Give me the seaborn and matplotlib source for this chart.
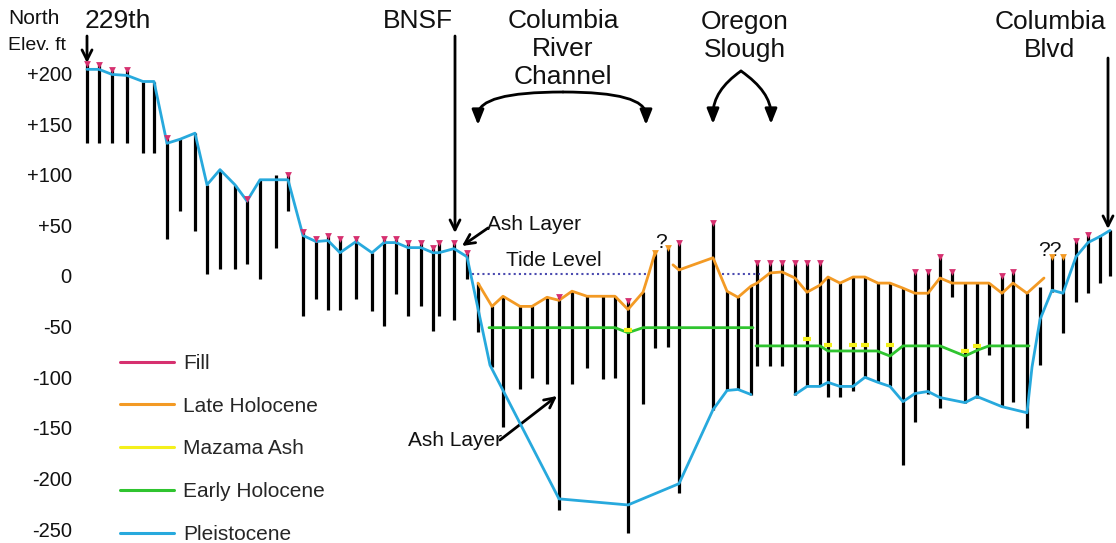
import numpy as np
import pandas as pd
import matplotlib
matplotlib.use("Agg")
import matplotlib.pyplot as plt
from matplotlib.lines import Line2D
from matplotlib.patches import FancyArrowPatch
import seaborn as sns

sns.set_theme(style="white")
plt.rcParams['font.family'] = ['Liberation Sans', 'DejaVu Sans']

W, H = 1116, 543

# boreholes along the section (distance units, north -> south), elevations in ft
bore_x = [87, 99, 112, 127, 143, 154, 167, 180, 195, 207, 220, 235, 247, 260, 276, 288,
          303, 316, 328, 340, 356, 372, 384, 396, 408, 421, 433, 439, 454, 467,
          478, 492, 503, 520, 532, 547, 559, 572, 587, 603, 615, 628, 643, 655, 668, 679,
          713, 727, 738, 751, 757, 770, 782, 795, 807, 820, 828, 840, 853, 865, 878, 890,
          903, 915, 928, 940, 952, 965, 977, 989, 1002, 1013, 1027, 1040, 1052, 1063,
          1076, 1088, 1100, 1110]
bore_top = [209, 208, 203, 203, 192, 192, 136, 135, 141, 90, 105, 90, 76, 95, 100, 100,
            43, 37, 39, 37, 37, 23, 37, 37, 33, 33, 28, 33, 33, 23,
            -7, -30, -20, -30, -30, -21, -21, -15, -20, -20, -20, -25, -16, 23, 28, 33,
            52, -15, -21, -10, 13, 13, 13, 13, 13, 13, -1, -7, -1, -1, -7, -7,
            -12, 4, 4, 19, 4, -7, -7, -7, 0, 4, -17, -11, 19, 19,
            35, 40, 40, 45]
bore_bot = [131, 131, 131, 131, 121, 121, 37, 64, 44, 2, 7, 7, 12, -3, 28, 64,
            -39, -23, -34, -34, -23, -35, -49, -18, -39, -30, -54, -39, -43, -3,
            -55, -90, -149, -112, -101, -107, -231, -107, -91, -102, -101, -254, -126, -71, -70, -214,
            -132, -113, -112, -117, -89, -89, -89, -117, -109, -109, -119, -119, -114, -100, -105, -109,
            -187, -144, -116, -130, -21, -125, -120, -78, -129, -124, -150, -88, -16, -56,
            -26, -17, -7, 0]

# boreholes capped with fill
fill_x = [87, 99, 112, 127, 167, 247, 288, 303, 316, 328, 340, 356, 384, 396, 408, 421,
          433, 439, 454, 467, 559, 628, 679, 713, 757, 770, 782, 795, 807, 820, 915, 928,
          940, 952, 1002, 1013, 1076, 1088]
# boreholes with uncertain late holocene top
uncertain_x = [655, 668, 1052, 1063]

nan = np.nan
pleist_x = [87, 99, 112, 127, 143, 154, 167, 180, 195, 207, 220, 235, 247, 260, 276, 288,
            303, 316, 328, 340, 356, 372, 384, 396, 408, 421, 433, 439, 454, 467,
            490, 559, 628, 679, 713, 727, 738, 751, nan,
            795, 807, 820, 828, 840, 853, 865, 878, 890, 903, 915, 928, 940, 965, 977,
            1002, 1027, 1032, 1040, 1052, 1063, 1076, 1088, 1100, 1110]
pleist_y = [204, 204, 199, 198, 192, 192, 131, 135, 141, 90, 105, 90, 74, 95, 95, 95,
            40, 34, 35, 23, 34, 23, 33, 33, 28, 28, 23, 23, 27, 19,
            -88, -220, -226, -205, -132, -113, -112, -117, nan,
            -117, -109, -109, -105, -109, -109, -100, -105, -109, -124, -116, -114, -120, -125, -119,
            -129, -135, -90, -43, -14, -17, 19, 33, 39, 45]

late_x = [478, 492, 503, 520, 532, 547, 559, 572, 587, 603, 615, 628, 643, 649, 655, nan,
          673, 679, 713, 727, 738, 751, 757, 770, 782, 795, 807, 820, 828, 840, 853, 865,
          878, 890, 903, 915, 928, 940, 952, 965, 977, 989, 1002, 1013, 1027, 1044]
late_y = [-7, -30, -20, -30, -30, -21, -24, -15, -20, -20, -20, -33, -16, 3, 23, nan,
          11, 6, 18, -15, -21, -10, -7, 3, 4, -2, -16, -9, -1, -7, -1, -1,
          -7, -7, -12, -17, -17, -2, -7, -7, -7, -7, -17, -7, -17, -2]

early_x = [489, 615, 628, 643, 753, nan, 756, 820, 828, 877, 890, 903, 940, 965, 978, 989, 1029]
early_y = [-51, -51, -56, -51, -51, nan, -69, -69, -74, -74, -79, -69, -69, -79, -73, -69, -69]

ash_x = [628, 807, 828, 853, 865, 890, 965, 977]
ash_y = [-53, -62, -68, -68, -68, -68, -74, -69]

tide_x = [472, 648, nan, 722, 760]
tide_y = [2, 2, nan, 2, 2]

yticks = [200, 150, 100, 50, 0, -50, -100, -150, -200, -250]
ytick_labels = ['+200', '+150', '+100', '+50', '0', '-50', '-100', '-150', '-200', '-250']

colors = {
    'Fill': '#d6306f',
    'Late Holocene': '#f39a24',
    'Mazama Ash': '#f4f01c',
    'Early Holocene': '#2fc42f',
    'Pleistocene': '#27a9dd',
}


def segments(xs, ys):
    df = pd.DataFrame({'x': xs, 'y': ys})
    df['seg'] = df['x'].isna().cumsum()
    return df.dropna()


fig = plt.figure(figsize=(W / 100, H / 100), dpi=100)
ax = fig.add_axes([80 / W, 0, 1 - 80 / W, 1])

# boreholes
ax.vlines(bore_x, bore_bot, bore_top, color='black', lw=2.3, zorder=1)

# tide level
tide = segments(tide_x, tide_y)
sns.lineplot(data=tide, x='x', y='y', units='seg', estimator=None, sort=False,
             color='#4b4bb0', lw=1.5, linestyle=(0, (1, 1.5)), ax=ax, zorder=2)

# stratigraphic surfaces
for name, xs, ys in [('Pleistocene', pleist_x, pleist_y),
                     ('Early Holocene', early_x, early_y),
                     ('Late Holocene', late_x, late_y)]:
    sns.lineplot(data=segments(xs, ys), x='x', y='y', units='seg', estimator=None,
                 sort=False, color=colors[name], lw=2.0, ax=ax, zorder=3)

# markers
top_of = dict(zip(bore_x, bore_top))
sns.scatterplot(x=fill_x, y=[top_of[x] for x in fill_x], marker='v', s=24,
                color=colors['Fill'], linewidth=0, ax=ax, zorder=4)
sns.scatterplot(x=uncertain_x, y=[top_of[x] for x in uncertain_x], marker='v', s=24,
                color=colors['Late Holocene'], linewidth=0, ax=ax, zorder=4)
sns.scatterplot(x=ash_x, y=ash_y, marker='_', s=40, linewidth=3,
                color=colors['Mazama Ash'], ax=ax, zorder=4)

ax.set_xlim(80, W)
ax.set_ylim((276 - H) / 1.013, 276 / 1.013)
ax.set_xticks([])
ax.set_yticks(yticks)
ax.set_yticklabels(ytick_labels, fontsize=14.5, color='#111111')
ax.tick_params(axis='y', length=0, pad=6)
ax.set_xlabel('')
ax.set_ylabel('')
sns.despine(ax=ax, left=True, bottom=True)

# legend
handles = [Line2D([0], [0], color=c, lw=2.2) for c in colors.values()]
fig.legend(handles, list(colors.keys()), loc='lower left',
           bbox_to_anchor=(110 / W, -0.021), frameon=False, fontsize=15,
           handlelength=2.55, handletextpad=0.45, labelspacing=1.14, borderpad=0)


# annotations, positions in image pixels from top-left
def px(x, y):
    return (x, H - y)


def label(text, x, y, size=19, ha='center'):
    ax.annotate(text, xy=px(x, y), xycoords='figure pixels', ha=ha, va='center',
                fontsize=size, color='#111111', linespacing=1.2)


def arrow(x0, y0, x1, y1, style='->', conn='arc3', scale=18):
    ax.add_artist(FancyArrowPatch(px(x0, y0), px(x1, y1), transform=None,
                                  arrowstyle=style, mutation_scale=scale, lw=2,
                                  color='black', connectionstyle=conn,
                                  shrinkA=0, shrinkB=0))


def brace_arm(x0, y0, x1, y1, angle):
    # curved arm, then a short straight filled arrowhead pointing down
    arrow(x0, y0, x1, y1 - 10, style='-', conn=f'angle3,angleA={angle},angleB=90')
    arrow(x1, y1 - 14, x1, y1, style='-|>,head_length=0.5,head_width=0.2')


label('North', 8, 19, size=15, ha='left')
label('Elev. ft', 8, 46, size=14, ha='left')
label('229th', 118, 21)
arrow(87, 36, 87, 63)
label('BNSF', 418, 21)
arrow(455, 36, 455, 233)
label('Columbia\nRiver\nChannel', 563, 49)
brace_arm(563, 92, 478, 125, 0)
brace_arm(563, 92, 646, 125, 0)
label('Oregon\nSlough', 745, 36)
brace_arm(741, 71, 713, 124, 35)
brace_arm(741, 71, 771, 124, -35)
label('Columbia\nBlvd', 1050, 36)
arrow(1108, 58, 1108, 229)

label('Ash Layer', 487, 224, size=15, ha='left')
arrow(488, 228, 462, 246)
label('Tide Level', 506, 261, size=15, ha='left')
label('?', 661, 242, size=15)
label('??', 1050, 250, size=15)
label('Ash Layer', 408, 440, size=15, ha='left')
arrow(500, 440, 557, 396)

fig.savefig('out.png', dpi=100)
